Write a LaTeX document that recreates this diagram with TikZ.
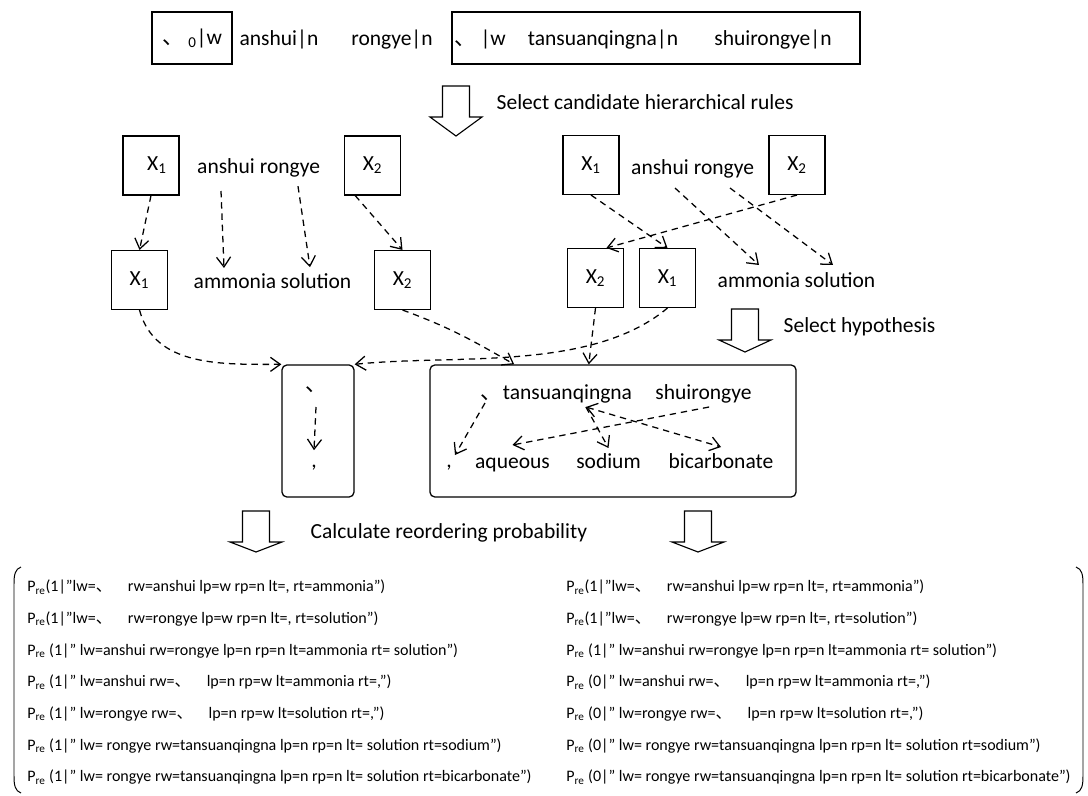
\documentclass[tikz,border=0pt]{standalone}
\usepackage{fontspec}
\setmainfont{Carlito}
\newfontfamily\cjk{Noto Sans CJK SC}
\usepackage{tikz}
\usetikzlibrary{arrows.meta, calc}
\newcommand{\wsize}{\fontsize{15.3}{18}\selectfont}
\newcommand{\psize}{\fontsize{11.4}{13}\selectfont}

\begin{document}
\begin{tikzpicture}[x=0.025cm, y=-0.025cm,
    >={Straight Barb[length=7pt,width=10pt]},
    word/.style={font=\wsize, anchor=base, inner sep=1pt},
    xbox/.style={draw, line width=0.9pt, minimum width=1.4cm, minimum height=1.47cm,
                 font=\wsize, inner sep=0pt},
    dasharr/.style={->, dash pattern=on 4.5pt off 3.5pt, line width=0.9pt},
    roundbox/.style={draw, line width=0.9pt, rounded corners=3.5pt,
                     minimum height=3.3cm, inner sep=0pt},
    probline/.style={font=\psize, anchor=base west, inner sep=0pt},
    blockarr/.style={draw, line width=0.8pt, fill=white}]
  \useasboundingbox (0,0) rectangle (1088,796);

  % source sentence
  \node[draw, line width=0.9pt, minimum width=2cm, minimum height=1.3cm, font=\wsize]
    (src1) at (192,38) {{\cjk 、} \textsubscript{0}|w};
  \node[word] (wansh) at (279,45) {anshui|n};
  \node[word] (wrong) at (392,45) {rongye|n};
  \node[draw, line width=0.9pt, minimum width=10.2cm, minimum height=1.3cm] (src2) at (656,38) {};
  \node[word] (wdun) at (480,45) {{\cjk 、} |w};
  \node[word] (wtans) at (603,45) {tansuanqingna|n};
  \node[word] (wshui) at (773,45) {shuirongye|n};

  % hollow arrows between the steps
  \foreach \x/\y/\s/\h in {456/86/31/19, 745/309/31/12, 256/511/31/10, 698/511/31/10}
    \draw[blockarr] (\x-13.5,\y) -- (\x+13.5,\y) -- (\x+13.5,\y+\s) -- (\x+26,\y+\s)
      -- (\x,\y+\s+\h) -- (\x-26,\y+\s) -- (\x-13.5,\y+\s) -- cycle;
  \node[word, anchor=base west] (lab1) at (495,109) {Select candidate hierarchical rules};
  \node[word, anchor=base west] (lab2) at (782,332) {Select hypothesis};
  \node[word, anchor=base west] (lab3) at (309,538) {Calculate reordering probability};

  % left rule
  \node[xbox] (lx1) at (151,165.5) {\hspace{0.55em}X\textsubscript{1}};
  \node[word] (lansh) at (226,173) {anshui};
  \node[word] (lrong) at (290,173) {rongye};
  \node[xbox] (lx2) at (372.5,165.5) {X\textsubscript{2}};
  \node[xbox] (lx1b) at (139.5,280) {X\textsubscript{1}};
  \node[word] (lammo) at (235,288) {ammonia};
  \node[word] (lsolu) at (316,288) {solution};
  \node[xbox] (lx2b) at (402.5,280) {X\textsubscript{2}};
  \draw[dasharr] (lx1.south) -- (lx1b.north);
  \draw[dasharr] ([xshift=-0.125cm,yshift=-0.45cm]lansh.base) -- ([xshift=-0.275cm,yshift=0.5cm]lammo.base);
  \draw[dasharr] ([xshift=0.2cm,yshift=-0.33cm]lrong.base) -- ([xshift=-0.15cm,yshift=0.52cm]lsolu.base);
  \draw[dasharr] (lx2.240) -- (lx2b.north);

  % right rule
  \node[xbox] (rx1) at (591,165) {X\textsubscript{1}};
  \node[word] (ransh) at (660,174) {anshui};
  \node[word] (rrong) at (724,174) {rongye};
  \node[xbox] (rx2) at (797,165) {X\textsubscript{2}};
  \node[xbox] (rx2b) at (595.5,278) {X\textsubscript{2}};
  \node[xbox] (rx1b) at (667.5,278) {X\textsubscript{1}};
  \node[word] (rammo) at (759,287) {ammonia};
  \node[word] (rsolu) at (840,287) {solution};
  \draw[dasharr] (rx1.south) -- (rx1b.north);
  \draw[dasharr] ([xshift=0.375cm,yshift=-0.35cm]ransh.base) -- ([yshift=0.55cm]rammo.base);
  \draw[dasharr] ([xshift=0.15cm,yshift=-0.35cm]rrong.base) -- ([xshift=-0.175cm,yshift=0.55cm]rsolu.base);
  \draw[dasharr] (rx2.south) -- (rx2b.70);

  % hypotheses
  \node[roundbox, minimum width=1.8cm] (tall) at (318,431) {};
  \node[word] (tdun) at (316,391) {{\cjk 、}};
  \node[word] (tcom) at (314,467) {,};
  \draw[dasharr] ([yshift=-0.4cm]tdun.base) -- ([yshift=0.42cm]tcom.base);

  \node[roundbox, minimum width=9.15cm] (big) at (613,431) {};
  \node[word] (bdun) at (491,399) {{\cjk 、}};
  \node[word] (btans) at (567.5,399) {tansuanqingna};
  \node[word] (bshui) at (703.5,399) {shuirongye};
  \node[word] (bcom) at (449,467) {,};
  \node[word] (baque) at (512.5,468) {aqueous};
  \node[word] (bsodi) at (608.5,468) {sodium};
  \node[word] (bbica) at (721,468) {bicarbonate};
  \draw[dasharr] ([xshift=-0.15cm,yshift=-0.1cm]bdun.base) -- ([xshift=0.15cm,yshift=0.3cm]bcom.base);
  \draw[dasharr] ([xshift=0.14cm,yshift=-0.2cm]bshui.base) -- ([yshift=0.575cm]baque.base);
  \draw[dasharr] ([xshift=0.46cm,yshift=-0.2cm]btans.base) -- ([yshift=0.5cm]bsodi.base);
  \draw[dasharr, <->] ([xshift=0.46cm,yshift=-0.2cm]btans.base) -- ([yshift=0.525cm]bbica.base);

  \draw[dasharr] (lx1b.south) to[out=-75, in=180] (tall.north west);
  \draw[dasharr] (lx2b.south) to[out=-20, in=150] (big.146);
  \draw[dasharr] (rx2b.south) -- (big.110);
  \draw[dasharr] (rx1b.south) to[out=-140, in=6, looseness=0.8] (tall.north east);

  % reordering probabilities
  \draw[line width=0.7pt] (21,567) .. controls (15,569) and (14,575) .. (14,584)
    -- (14,776) .. controls (14,785) and (15,791) .. (21,793);
  \draw[line width=0.7pt] (1076,567) .. controls (1082,569) and (1083,575) .. (1083,584)
    -- (1083,776) .. controls (1083,785) and (1082,791) .. (1076,793);
  \foreach \txt [count=\i] in {
      {P\textsubscript{re}(\pv|”lw={\cjk 、}\quad rw=anshui lp=w rp=n lt=, rt=ammonia”)},
      {P\textsubscript{re}(\pv|”lw={\cjk 、}\quad rw=rongye lp=w rp=n lt=, rt=solution”)},
      {P\textsubscript{re} (\pv|” lw=anshui rw=rongye lp=n rp=n lt=ammonia rt= solution”)},
      {P\textsubscript{re} (\pv|” lw=anshui rw={\cjk 、}\quad lp=n rp=w lt=ammonia rt=,”)},
      {P\textsubscript{re} (\pv|” lw=rongye rw={\cjk 、}\quad lp=n rp=w lt=solution rt=,”)},
      {P\textsubscript{re} (\pv|” lw= rongye rw=tansuanqingna lp=n rp=n lt= solution rt=sodium”)},
      {P\textsubscript{re} (\pv|” lw= rongye rw=tansuanqingna lp=n rp=n lt= solution rt=bicarbonate”)}} {
    \def\pv{1}
    \node[probline] (pl\i) at (27,560+31.7*\i) {\txt};
    \ifnum\i>3 \def\pv{0}\fi
    \node[probline] (pr\i) at (566,560+31.7*\i) {\txt};
  }
\end{tikzpicture}
\end{document}
